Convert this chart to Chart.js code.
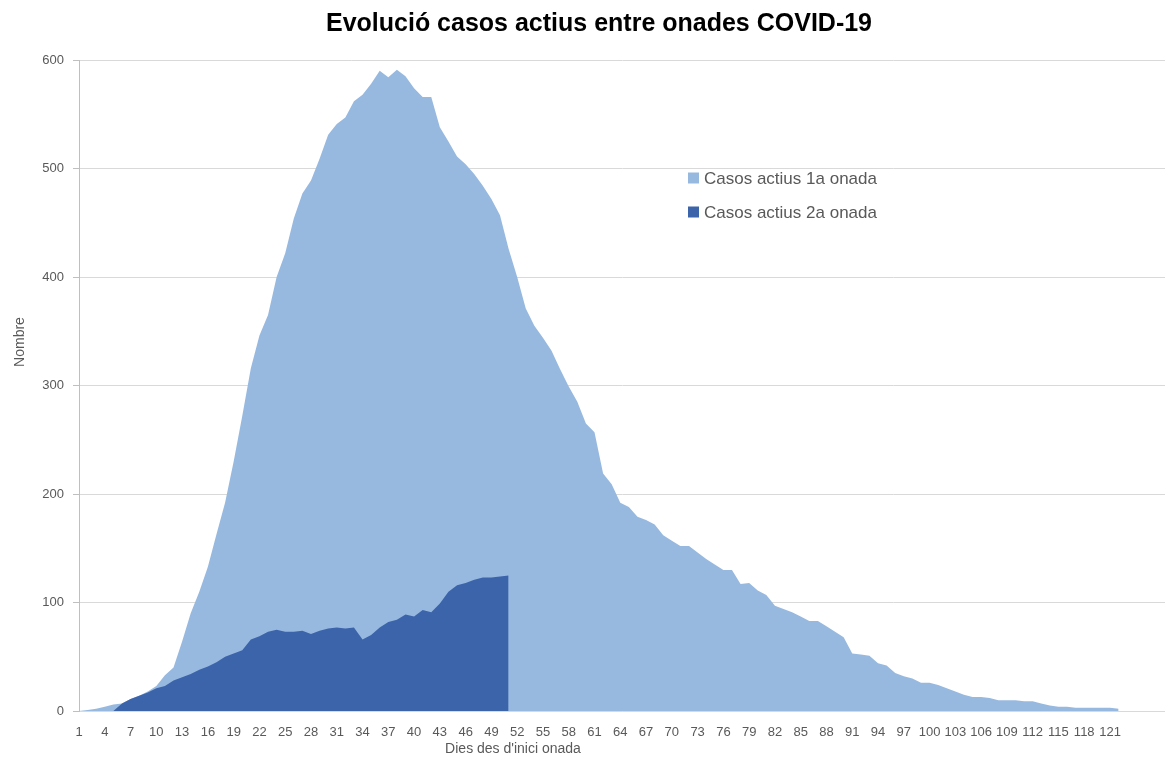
<!DOCTYPE html>
<html>
<head>
<meta charset="utf-8">
<script src="https://cdn.jsdelivr.net/npm/chart.js@4.4.1/dist/chart.umd.min.js"></script>
<style>
html,body{margin:0;padding:0;background:#fff;}
#wrap{position:relative;width:1165px;height:758px;}
</style>
</head>
<body>
<div id="wrap"><canvas id="c" width="1165" height="758"></canvas></div>
<script>
// ---- data ----
const days = Array.from({length:122},(_,i)=>i+1);
const wave1 = [0,1,2,4,6,7,11,14,18,23,
  33,40,64,90,110,133,163,192,230,272,
  316,346,365,400,422,454,477,489,509,531,
  541,547,562,568,578,590,584,591,585,574,
  566,566,538,525,511,504,495,484,472,457,
  426,400,371,355,344,332,315,299,285,265,
  257,219,209,192,188,179,176,172,162,157,
  152,152,146,140,135,130,130,117,118,111,
  107,97,94,91,87,83,83,78,73,68,
  53,52,51,44,42,35,32,30,26,26,
  24,21,18,15,13,13,12,10,10,10,
  9,9,7,5,4,4,3,3,3,3,3,2];
const wave2 = [0,0,0,0,0,7,11,14,17,21,
  23,28,31,34,38,41,45,50,53,56,
  66,69,73,75,73,73,74,71,74,76,
  77,76,77,66,70,77,82,84,89,87,
  93,91,99,110,116,118,121,123,123,124,125];
const xTickLabels = [1,4,7,10,13,16,19,22,25,28,31,34,37,40,43,46,49,52,55,58,61,64,67,70,73,76,79,82,85,88,91,94,97,100,103,106,109,112,115,118,121];
const yTickLabels = [0,100,200,300,400,500,600];
const seriesNames = ['Casos actius 1a onada','Casos actius 2a onada'];
const titleText = 'Evolució casos actius entre onades COVID-19';
const xTitle = "Dies des d'inici onada";
const yTitle = 'Nombre';

const LIGHT = '#97B9E0';
const DARK = '#3C64AA';
const FONT = '"Liberation Sans", Arial, sans-serif';

const overlay = {
  id: 'overlay',
  afterDraw(chart) {
    const ctx = chart.ctx;
    ctx.save();
    ctx.textAlign = 'center';
    ctx.textBaseline = 'middle';
    ctx.fillStyle = '#000';
    ctx.font = 'bold 25px ' + FONT;
    ctx.fillText(titleText, 599, 24);
    ctx.fillStyle = '#595959';
    ctx.font = '14px ' + FONT;
    ctx.fillText(xTitle, 513, 749);
    ctx.save();
    ctx.translate(20, 342);
    ctx.rotate(-Math.PI/2);
    ctx.fillText(yTitle, 0, 0);
    ctx.restore();
    // legend
    const cols = [LIGHT, DARK];
    ctx.textAlign = 'left';
    ctx.font = '17px ' + FONT;
    seriesNames.forEach((n, i) => {
      const y = 178 + i*34;
      ctx.fillStyle = cols[i];
      ctx.fillRect(688, y-5.5, 11, 11);
      ctx.fillStyle = '#595959';
      ctx.fillText(n, 704, y+1);
    });
    ctx.restore();
  }
};

new Chart(document.getElementById('c'), {
  type: 'line',
  data: {
    labels: days,
    datasets: [
      { label: seriesNames[0], data: wave1, backgroundColor: LIGHT, borderColor: LIGHT,
        borderWidth: 0, pointRadius: 0, fill: 'origin', tension: 0, order: 1 },
      { label: seriesNames[1], data: wave2, backgroundColor: DARK, borderColor: DARK,
        borderWidth: 0, pointRadius: 0, fill: 'origin', tension: 0, order: 0 }
    ]
  },
  options: {
    responsive: false,
    animation: false,
    events: [],
    layout: { padding: { top: 60, right: 0, bottom: 0, left: 0 } },
    plugins: { legend: { display: false }, title: { display: false }, tooltip: { enabled: false } },
    scales: {
      x: {
        type: 'linear',
        min: 1,
        max: 127.4,
        afterBuildTicks: s => { s.ticks = xTickLabels.map(v => ({ value: v })); },
        afterFit: s => { s.height = 47; },
        grid: { display: false, drawTicks: false },
        border: { display: true, color: '#D9D9D9', width: 1 },
        ticks: { autoSkip: false, maxRotation: 0, minRotation: 0, padding: 14,
          color: '#595959', font: { family: FONT, size: 13 }, callback: v => String(v) }
      },
      y: {
        min: 0,
        max: 600,
        afterBuildTicks: s => { s.ticks = yTickLabels.map(v => ({ value: v })); },
        afterFit: s => { s.width = 79; },
        grid: { color: '#D9D9D9', tickColor: '#BFBFBF', tickLength: 6, drawTicks: true },
        border: { display: true, color: '#BFBFBF', width: 1 },
        ticks: { padding: 9, color: '#595959', font: { family: FONT, size: 13 }, callback: v => String(v) }
      }
    }
  },
  plugins: [overlay]
});
</script>
</body>
</html>
